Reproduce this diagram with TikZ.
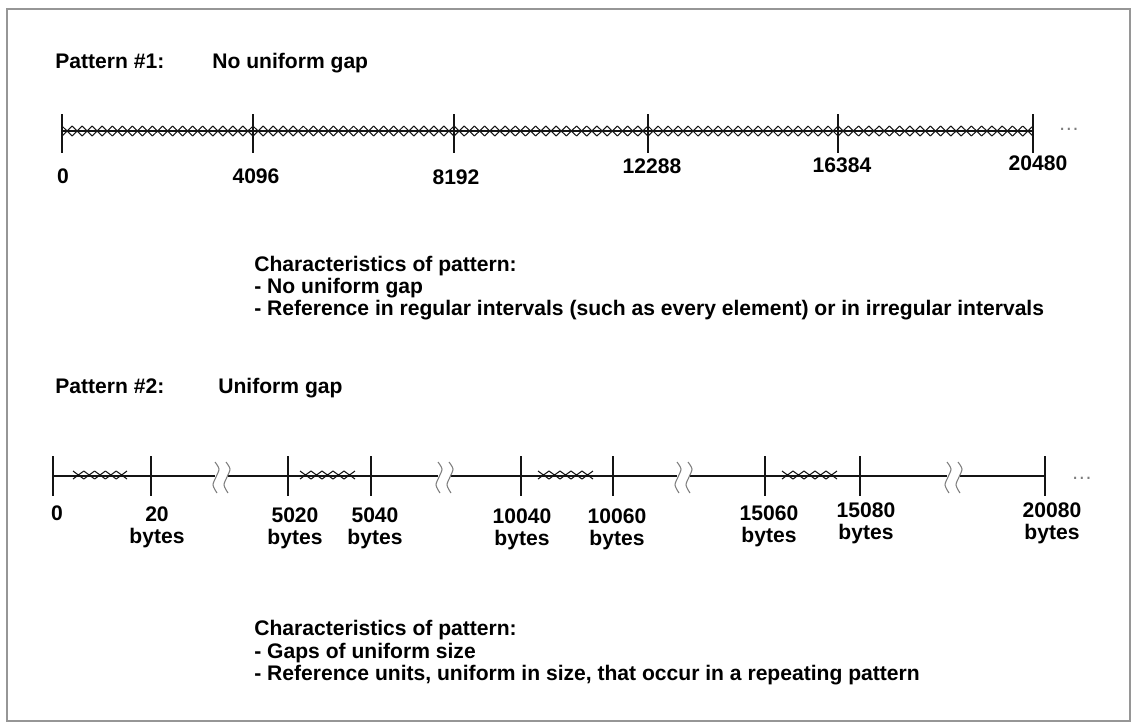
\documentclass[tikz,border=0pt]{standalone}
\usepackage{fontspec}
\setmainfont{Liberation Sans}
\usetikzlibrary{calc}
\definecolor{figline}{RGB}{20,20,20}
\definecolor{figframe}{RGB}{150,150,150}
\definecolor{figbreak}{RGB}{125,125,125}
\tikzset{
  axl/.style ={draw=figline, line width=1.1pt},
  tck/.style ={draw=figline, line width=1.5pt},
  xm/.style  ={draw=figline, line width=0.6pt},
  brk/.style ={draw=figbreak, line width=0.6pt},
  lab/.style ={font=\fontsize{12}{13}\selectfont\bfseries, inner sep=0pt},
  num/.style ={lab, anchor=north, align=center},
  dts/.style ={font=\fontsize{12}{13}\selectfont, text=figbreak, inner sep=0pt},
}
\newcommand{\xchain}[5]{%
  \pgfmathsetmacro{\xw}{(#2-#1)/#3}
  \foreach \k in {1,...,#3}{
    \draw[xm] ({#1+(\k-1)*\xw},#4-#5) -- ({#1+\k*\xw},#4+#5)
              ({#1+(\k-1)*\xw},#4+#5) -- ({#1+\k*\xw},#4-#5);
  }}
\newcommand{\gapmark}[2]{%
  \foreach \d in {0,11}{
    \draw[brk] plot[smooth] coordinates {({#1+\d-1},#2-14) ({#1+\d+3},#2-7)
      ({#1+\d},#2+1) ({#1+\d-3},#2+9) ({#1+\d+1},#2+17)};
  }}

\begin{document}
\begin{tikzpicture}[x=0.02cm,y=-0.02cm]
  \useasboundingbox (0,0) rectangle (1136,725);
  \draw[figframe, line width=1.2pt] (7,9) rectangle (1130,721);
  \node[lab, anchor=base west] (p1) at (55,68) {Pattern \#1:};
  \node[lab, anchor=base west] (p1t) at (212,68) {No uniform gap};
  \draw[axl] (62,131) -- (1033,131);
  \xchain{62}{253}{19}{131}{5}
  \xchain{253}{454}{20}{131}{5}
  \xchain{454}{648}{19}{131}{5}
  \xchain{648}{838}{19}{131}{5}
  \xchain{838}{1033}{19}{131}{5}
  \draw[tck] (62,114) -- (62,153);
  \draw[tck] (253,114) -- (253,153);
  \draw[tck] (454,114) -- (454,153);
  \draw[tck] (648,114) -- (648,153);
  \draw[tck] (838,114) -- (838,153);
  \draw[tck] (1033,114) -- (1033,153);
  \node[num] (a0) at (63,168) {0};
  \node[num] (a1) at (256,168) {4096};
  \node[num] (a2) at (456,169) {8192};
  \node[num] (a3) at (652,158) {12288};
  \node[num] (a4) at (842,157) {16384};
  \node[num] (a5) at (1038,155) {20480};
  \node[dts] (d1) at (1069,129) {\dots};
  \node[lab, anchor=base west] (c1a) at (254,271) {Characteristics of pattern:};
  \node[lab, anchor=base west] (c1b) at (254,293) {- No uniform gap};
  \node[lab, anchor=base west] (c1c) at (254,315) {- Reference in regular intervals (such as every element) or in irregular intervals};
  \node[lab, anchor=base west] (p2) at (55,393) {Pattern \#2:};
  \node[lab, anchor=base west] (p2t) at (218,393) {Uniform gap};
  \draw[axl] (53,476) -- (215,476);
  \draw[axl] (228,476) -- (438,476);
  \draw[axl] (451,476) -- (677,476);
  \draw[axl] (690,476) -- (947,476);
  \draw[axl] (960,476) -- (1045,476);
  \gapmark{216}{476}
  \gapmark{439}{476}
  \gapmark{678}{476}
  \gapmark{948}{476}
  \xchain{73}{127}{5}{475}{4}
  \xchain{300}{355}{5}{475}{4}
  \xchain{538}{593}{5}{475}{4}
  \xchain{782}{837}{5}{475}{4}
  \draw[tck] (53,456) -- (53,496);
  \draw[tck] (151,456) -- (151,496);
  \draw[tck] (288,456) -- (288,496);
  \draw[tck] (371,456) -- (371,496);
  \draw[tck] (521,456) -- (521,496);
  \draw[tck] (613,456) -- (613,496);
  \draw[tck] (765,456) -- (765,496);
  \draw[tck] (860,456) -- (860,496);
  \draw[tck] (1045,456) -- (1045,496);
  \node[num] (b0) at (57,505) {0};
  \node[num] (b1) at (157,506) {20\\bytes};
  \node[num] (b2) at (295,507) {5020\\bytes};
  \node[num] (b3) at (375,507) {5040\\bytes};
  \node[num] (b4) at (522,508) {10040\\bytes};
  \node[num] (b5) at (617,508) {10060\\bytes};
  \node[num] (b6) at (769,505) {15060\\bytes};
  \node[num] (b7) at (866,502) {15080\\bytes};
  \node[num] (b8) at (1052,502) {20080\\bytes};
  \node[dts] (d2) at (1082,478) {\dots};
  \node[lab, anchor=base west] (c2a) at (254,635) {Characteristics of pattern:};
  \node[lab, anchor=base west] (c2b) at (254,658) {- Gaps of uniform size};
  \node[lab, anchor=base west] (c2c) at (254,680) {- Reference units, uniform in size, that occur in a repeating pattern};
\end{tikzpicture}
\end{document}
